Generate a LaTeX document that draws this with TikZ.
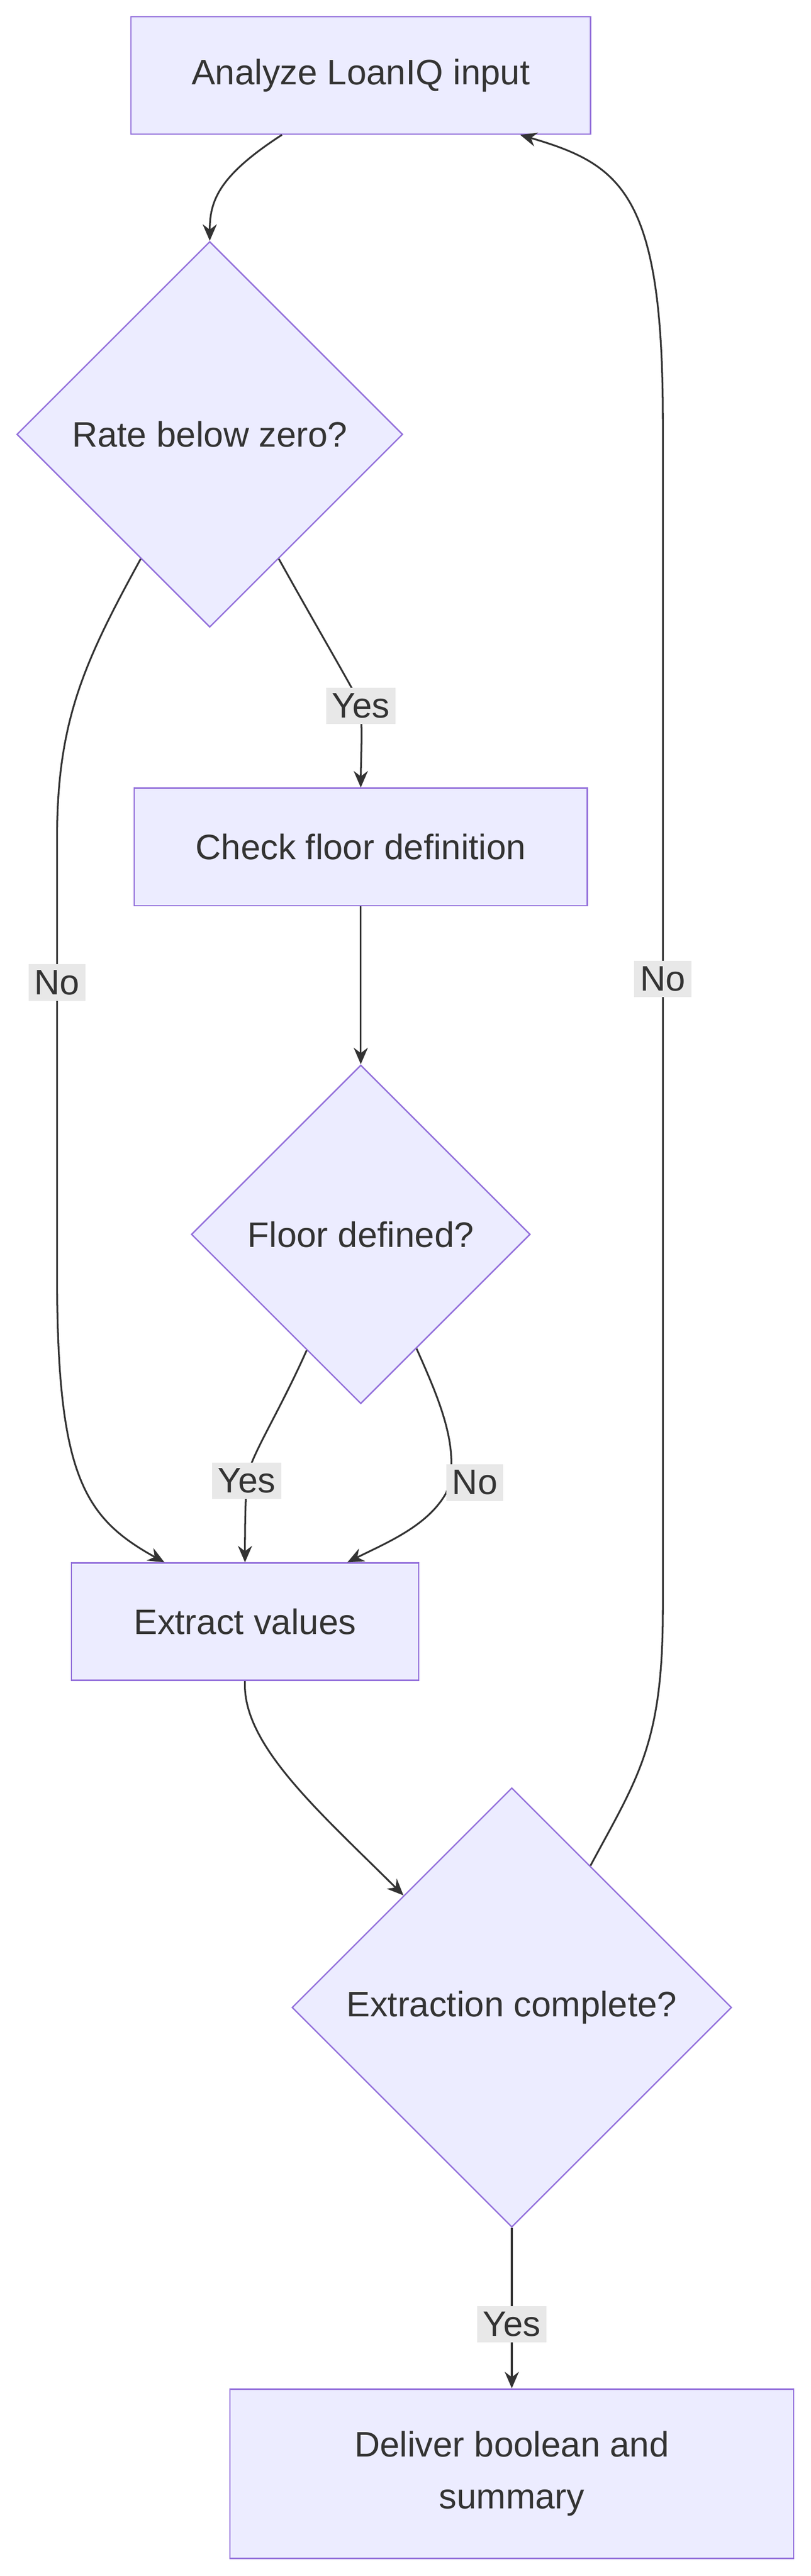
\documentclass[tikz,border=0pt]{standalone}
\usepackage{fontspec}
\setmainfont{Liberation Sans}
\usetikzlibrary{shapes.geometric,calc,arrows.meta}
\definecolor{boxfill}{HTML}{ECECFF}
\definecolor{boxline}{HTML}{9370DB}
\definecolor{ink}{HTML}{333333}
\definecolor{lblfill}{HTML}{E8E8E8}
\tikzset{
  box/.style={draw=boxline,fill=boxfill,line width=1.2pt,text=ink,font=\fontsize{30}{44}\selectfont,minimum height=3.5cm,align=center},
  dec/.style={diamond,draw=boxline,fill=boxfill,line width=1.2pt,text=ink,font=\fontsize{30}{44}\selectfont,aspect=1,inner sep=0pt},
  lbl/.style={fill=lblfill,text=ink,font=\fontsize{30}{36}\selectfont,inner sep=5pt},
  arr/.style={draw=ink,line width=1.5pt,-{Stealth[length=14pt,width=12pt]}}
}
\begin{document}
\begin{tikzpicture}[x=0.05cm,y=-0.05cm]
\useasboundingbox (0,0) rectangle (483,1536);
\node[box,minimum width=13.7cm] (analyze) at (215,45) {Analyze LoanIQ input};
\node[dec,minimum size=11.5cm] (below) at (125,259) {Rate below zero?};
\node[box,minimum width=13.5cm] (check) at (215,505) {Check floor definition};
\node[dec,minimum size=10.1cm] (floor) at (215,736) {Floor defined?};
\node[box,minimum width=10.35cm] (extract) at (146,967) {Extract values};
\node[dec,minimum size=13.1cm] (complete) at (305,1197) {Extraction complete?};
\node[box,minimum width=16.8cm,minimum height=5.05cm] (deliver) at (305,1475) {Deliver boolean and\\summary};
\draw[arr] ($(analyze.south)+(-47,0)$) .. controls (130,105) and (125,120) .. (below.north);
\draw[arr] (below.-61) .. controls (195,385) and (213,415) .. (215,421) node[lbl] {Yes} .. controls (216,440) and (215,455) .. (check.north);
\draw[arr] (below.-119) .. controls (50,395) and (34,430) .. (34,500) -- node[lbl,pos=0.33] {No} (34,760) .. controls (34,880) and (50,905) .. ($(extract.north)+(-48,0)$);
\draw[arr] (check) -- (floor);
\draw[arr] (floor.-115) .. controls (165,845) and (148,870) .. (147,883) node[lbl] {Yes} .. controls (146,900) and (146,915) .. (extract.north);
\draw[arr] (floor.-64) .. controls (262,835) and (275,865) .. (266,890) .. controls (255,910) and (230,920) .. ($(extract.north)+(61,0)$);
\node[lbl] (nofloor) at (283,884) {No};
\draw[arr] (extract.south) .. controls (144,1040) and (190,1080) .. (complete.134);
\draw[arr] (complete.61) .. controls (380,1060) and (395,1040) .. (395,960) -- node[lbl,pos=0.53] {No} (395,250) .. controls (395,115) and (370,98) .. ($(analyze.south)+(95,0)$);
\draw[arr] (complete) -- node[lbl,pos=0.6] {Yes} (deliver);
\end{tikzpicture}
\end{document}
